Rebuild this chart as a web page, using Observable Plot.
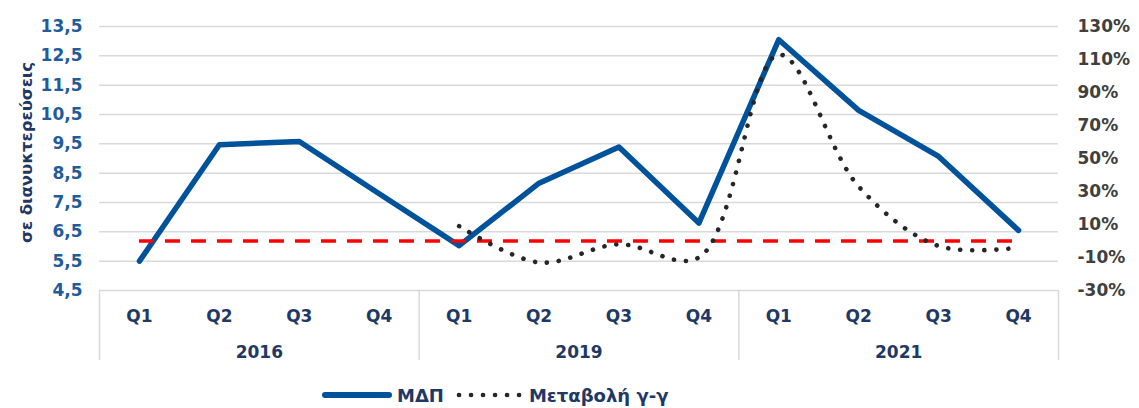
<!DOCTYPE html>
<html>
<head>
<meta charset="utf-8">
<script src="https://cdn.jsdelivr.net/npm/d3@7"></script>
<script src="https://cdn.jsdelivr.net/npm/@observablehq/plot@0.6"></script>
<style>
  html, body { margin: 0; padding: 0; background: #fff; }
  #wrap { position: relative; width: 1139px; height: 408px; font-family: "DejaVu Sans", Verdana, sans-serif; }
  #legend { position: absolute; left: 322px; top: 383px; height: 24px; display: flex; align-items: center; font-weight: bold; font-size: 18px; color: #1F3864; }
  #legend .item { display: flex; align-items: center; margin-right: 12px; }
  #legend svg { margin-right: 5px; }
</style>
</head>
<body>
<div id="wrap"></div>
<script>
// ---- data ----
const quarters = ["Q1","Q2","Q3","Q4","Q1","Q2","Q3","Q4","Q1","Q2","Q3","Q4"];
const years = ["2016","2019","2021"];
const gdp = [5.5, 9.47, 9.58, 7.8, 6.03, 8.16, 9.39, 6.8, 13.05, 10.64, 9.07, 6.55];      // ΜΔΠ (left axis)
const yoy = [null, null, null, null, 9, -13, -2, -10, 113, 33, -3, -4];                  // Μεταβολή γ-γ (%) (right axis)
const refLine = 0;                                                                        // red dashed reference (%)
const leftTicks = [4.5, 5.5, 6.5, 7.5, 8.5, 9.5, 10.5, 11.5, 12.5, 13.5];
const rightTicks = [-30, -10, 10, 30, 50, 70, 90, 110, 130];
const seriesNames = ["ΜΔΠ", "Μεταβολή γ-γ"];
const yTitle = "σε διανυκτερεύσεις";

// ---- styling ----
const BLUE = "#00529B", NAVY = "#1F3864", LBLUE = "#1F5C99", GRID = "#d9d9d9", DOT = "#262626";
const perGroup = quarters.length / years.length;

// map right-axis (%) onto the left scale domain
const L0 = leftTicks[0], L1 = leftTicks[leftTicks.length - 1];
const R0 = rightTicks[0], R1 = rightTicks[rightTicks.length - 1];
const toLeft = p => L0 + (p - R0) * (L1 - L0) / (R1 - R0);
const fromLeft = v => R0 + (v - L0) * (R1 - R0) / (L1 - L0);

const idx = d3.range(quarters.length);
const yoyData = idx.filter(i => yoy[i] != null).map(i => ({i, v: yoy[i]}));

const chart = Plot.plot({
  width: 1139,
  height: 378,
  marginLeft: 99,
  marginRight: 81,
  marginTop: 26,
  marginBottom: 88,
  style: {fontFamily: "'DejaVu Sans', Verdana, sans-serif", background: "#fff", overflow: "visible"},
  x: {domain: [-0.5, quarters.length - 0.5]},
  y: {domain: [L0, L1]},
  marks: [
    Plot.gridY(leftTicks, {stroke: GRID, strokeOpacity: 1, strokeWidth: 1.5}),
    // category box separators
    Plot.axisX(d3.range(years.length + 1).map(k => k * perGroup - 0.5), {
      tickSize: 70, tickFormat: () => "", stroke: GRID, strokeWidth: 1.5, strokeOpacity: 1, label: null
    }),
    Plot.axisX(idx, {
      tickSize: 0, tickPadding: 19, tickFormat: i => quarters[i], fill: NAVY,
      fontSize: 17, fontWeight: "bold", label: null
    }),
    Plot.axisX(years.map((y, k) => k * perGroup + (perGroup - 1) / 2), {
      tickSize: 0, tickPadding: 55, tickFormat: v => years[Math.round((v - (perGroup - 1) / 2) / perGroup)], fill: NAVY,
      fontSize: 17, fontWeight: "bold", label: null
    }),
    Plot.axisY(leftTicks, {
      anchor: "left", tickSize: 0, tickPadding: 17, fill: LBLUE, fontSize: 17, fontWeight: "bold",
      tickFormat: d => d.toFixed(1).replace(".", ","), label: null
    }),
    Plot.axisY(rightTicks.map(toLeft), {
      anchor: "right", tickSize: 0, tickPadding: 19, fill: "#404040", fontSize: 17, fontWeight: "bold",
      tickFormat: v => Math.round(fromLeft(v)) + "%", label: null
    }),
    Plot.text([yTitle], {
      frameAnchor: "left", textAnchor: "middle", rotate: -90, dx: -73, dy: -6, fill: NAVY, fontSize: 16.5, fontWeight: "bold"
    }),
    Plot.lineY(gdp, {
      x: (d, i) => i, y: d => d, stroke: BLUE, strokeWidth: 5.5, strokeLinejoin: "round", strokeLinecap: "round"
    }),
    Plot.ruleY([refLine], {
      y: d => toLeft(d), x1: () => 0, x2: () => quarters.length - 1,
      stroke: "#FF0000", strokeWidth: 3.5, strokeDasharray: "15,11"
    }),
    Plot.line(yoyData, {
      x: "i", y: d => toLeft(d.v), curve: "catmull-rom", stroke: DOT, strokeWidth: 4.6,
      strokeDasharray: "0.1,11.9", strokeLinecap: "round"
    })
  ]
});

const wrap = document.getElementById("wrap");
wrap.appendChild(chart);

// legend
const legend = document.createElement("div");
legend.id = "legend";
legend.innerHTML = `
  <div class="item"><svg width="70" height="10"><line x1="3" y1="5" x2="67" y2="5" stroke="${BLUE}" stroke-width="6" stroke-linecap="round"/></svg><span>${seriesNames[0]}</span></div>
  <div class="item"><svg width="68" height="10"><line x1="3" y1="5" x2="65" y2="5" stroke="${DOT}" stroke-width="4.6" stroke-dasharray="0.1,11.9" stroke-linecap="round"/></svg><span>${seriesNames[1]}</span></div>`;
wrap.appendChild(legend);
</script>
</body>
</html>
